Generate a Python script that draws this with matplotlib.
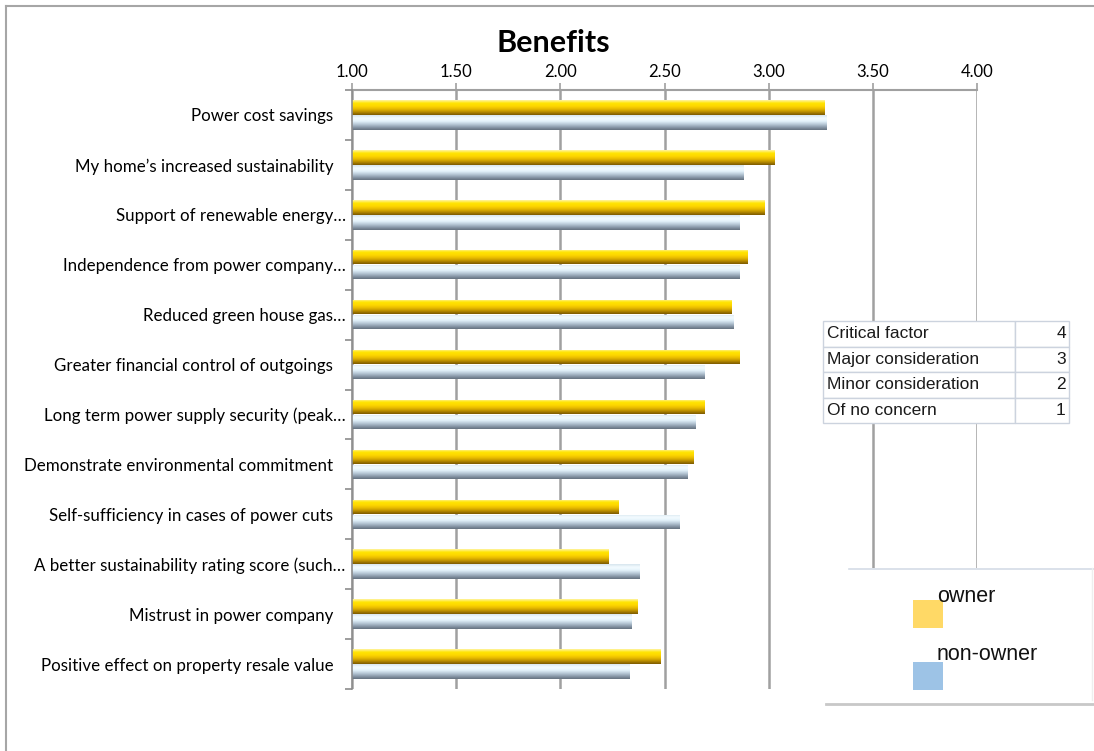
import numpy as np
import matplotlib
matplotlib.use("Agg")
import matplotlib.pyplot as plt
from matplotlib.colors import LinearSegmentedColormap
from matplotlib.patches import Rectangle
from matplotlib.lines import Line2D

# ---- data -------------------------------------------------------------
categories = [
    "Power cost savings",
    "My home\u2019s increased sustainability",
    "Support of renewable energy\u2026",
    "Independence from power company\u2026",
    "Reduced green house gas\u2026",
    "Greater financial control of outgoings",
    "Long term power supply security (peak\u2026",
    "Demonstrate environmental commitment",
    "Self-sufficiency in cases of power cuts",
    "A better sustainability rating score (such\u2026",
    "Mistrust in power company",
    "Positive effect on property resale value",
]
owner = [3.27, 3.03, 2.98, 2.90, 2.82, 2.86, 2.69, 2.64, 2.28, 2.23, 2.37, 2.48]
non_owner = [3.28, 2.88, 2.86, 2.86, 2.83, 2.69, 2.65, 2.61, 2.57, 2.38, 2.34, 2.33]
series_names = ["owner", "non-owner"]
x_ticks = [1.00, 1.50, 2.00, 2.50, 3.00, 3.50, 4.00]
scale_labels = ["Critical factor", "Major consideration", "Minor consideration", "Of no concern"]
scale_values = [4, 3, 2, 1]

# ---- figure -----------------------------------------------------------
W, H = 1094, 751
fig = plt.figure(figsize=(W / 100, H / 100), dpi=100)
fig.patch.set_facecolor("white")


def fx(px):
    return px / W


def fy(py):
    return 1 - py / H


LABEL_FONT = ["Lato", "DejaVu Sans"]
TABLE_FONT = ["Liberation Sans", "DejaVu Sans"]

# outer chart border (left and top edges visible)
fig.add_artist(Line2D([fx(5.5), fx(5.5)], [fy(5.5), 0], color="#A6A6A6", lw=1.5))
fig.add_artist(Line2D([fx(5.5), 1], [fy(5.5), fy(5.5)], color="#A6A6A6", lw=1.5))

ax = fig.add_axes([fx(352), fy(689), fx(977) - fx(352), fy(90) - fy(689)])
XMIN, XMAX = 1.0, 4.0
n = len(categories)
y = np.arange(n)
bh = 0.29
off = 0.15

gold_cmap = LinearSegmentedColormap.from_list(
    "gold", ["#FFF4A8", "#FFE400", "#FFD800", "#E8BA00", "#B88C00", "#7A5800"])
silver_cmap = LinearSegmentedColormap.from_list(
    "silver", ["#D6E4EE", "#F4FCFF", "#E6F4FC", "#BCCDDB", "#8E9EAE", "#65717E"])

grad = np.linspace(0, 1, 64).reshape(-1, 1)

for vals, dy, cmap in ((owner, -off, gold_cmap), (non_owner, off, silver_cmap)):
    widths = [v - XMIN for v in vals]
    bars = ax.barh(y + dy, widths, left=XMIN, height=bh, color="none",
                   edgecolor="none", zorder=3)
    for b in bars:
        x0, y0 = b.get_x(), b.get_y()
        w, h = b.get_width(), b.get_height()
        im = ax.imshow(grad, cmap=cmap, aspect="auto", origin="upper",
                       extent=(x0, x0 + w, y0 + h, y0), interpolation="bicubic",
                       zorder=3)
        im.set_clip_path(b)

ax.set_xlim(XMIN, XMAX)
ax.set_ylim(n - 0.5, -0.5)

# axes styling
ax.xaxis.tick_top()
ax.set_xticks(x_ticks)
ax.set_xticklabels([f"{t:.2f}" for t in x_ticks], fontsize=12, family=LABEL_FONT)
ax.tick_params(axis="x", direction="out", length=5, width=1.2, color="#A0A0A0", pad=2.5)
ax.set_yticks(y)
ax.set_yticklabels(categories, fontsize=12.2, family=LABEL_FONT)
ax.tick_params(axis="y", which="major", length=0)
# truncated labels sit closer to the axis than complete ones
for tick, lab in zip(ax.yaxis.get_major_ticks(), categories):
    tick.set_pad(4.5 if lab.endswith("\u2026") else 13.5)
ax.set_yticks(np.arange(-0.5, n, 1.0), minor=True)
ax.tick_params(axis="y", which="minor", direction="out", length=5, width=1.2, color="#8C8C8C")
ax.grid(axis="x", color="#A0A0A0", lw=1.8, zorder=1)
ax.set_axisbelow(True)
for s in ("right", "bottom"):
    ax.spines[s].set_visible(False)
ax.spines["left"].set_color("#8C8C8C")
ax.spines["left"].set_linewidth(1.2)
ax.spines["left"].set_zorder(4)
ax.spines["top"].set_color("#A0A0A0")
ax.spines["top"].set_linewidth(1.5)

fig.text(fx(553), fy(43), "Benefits", ha="center", va="center",
         fontsize=22, fontweight="bold", family=LABEL_FONT)

# ---- rating scale table ----------------------------------------------
tax = fig.add_axes([fx(823), fy(423), fx(1069) - fx(823), fy(321) - fy(423)])
tax.axis("off")
tbl = tax.table(cellText=[[lab, str(v)] for lab, v in zip(scale_labels, scale_values)],
                colWidths=[0.78, 0.22], bbox=[0, 0, 1, 1], cellLoc="left")
tbl.auto_set_font_size(False)
for (r, c), cell in tbl.get_celld().items():
    cell.set_edgecolor("#CCD3DE")
    cell.set_linewidth(1.0)
    cell.set_facecolor("white")
    cell.PAD = 0.02 if c == 0 else 0.06
    t = cell.get_text()
    t.set_fontsize(12.5)
    t.set_family(TABLE_FONT)
    t.set_color("#1A1A1A")
    if c == 1:
        t.set_ha("right")
        cell._loc = "right"

# ---- legend ------------------------------------------------------------
lax = fig.add_axes([fx(826), fy(704), fx(1094) - fx(826), fy(568) - fy(704)])
lax.set_xlim(826, 1094)
lax.set_ylim(704, 568)
lax.set_xticks([])
lax.set_yticks([])
lax.set_facecolor("white")
for s in lax.spines.values():
    s.set_visible(False)
lax.plot([849, 1094], [568.5, 568.5], color="#D4DCE6", lw=1.2, clip_on=False)
lax.plot([826, 1094], [703.5, 703.5], color="#C8C8C8", lw=2, clip_on=False)
lax.plot([1092, 1092], [568, 700], color="#EEEEEE", lw=1, clip_on=False)

legend_colors = ["#FFD966", "#9DC3E6"]
sq_top = [600, 662]
txt_y = [597, 655]
for name, col, st, ty in zip(series_names, legend_colors, sq_top, txt_y):
    lax.add_patch(Rectangle((913, st), 30, 28, facecolor=col, edgecolor="none"))
    lax.text(937, ty, name, ha="left", va="center", fontsize=15.5,
             family=TABLE_FONT, color="#111111")

fig.savefig("out.png", dpi=100, facecolor="white")
